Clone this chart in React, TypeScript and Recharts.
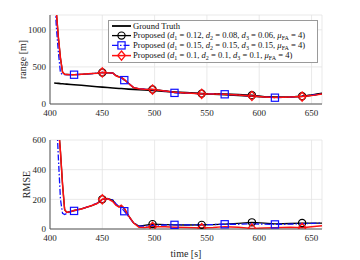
import React from 'react';
import { LineChart, Line, XAxis, YAxis, CartesianGrid } from 'recharts';

const times = [404, 406, 408, 410, 412, 414, 416, 420, 423, 430, 440, 445, 450, 455, 460, 463, 466, 468, 471, 475, 480, 485, 490, 498, 510, 519, 530, 545, 556, 567, 580, 593, 605, 615, 630, 641, 650, 660];

const groundTruth = [283, 280, 278, 275, 273, 270, 268, 263, 260, 252, 240, 233, 227, 222, 216, 213, 210, 208, 205, 201, 197, 192, 188, 181, 170, 162, 153, 140, 132, 125, 115, 105, 96, 92, 95, 105, 120, 145];
const rangeP1 = [2000, 1250, 900, 620, 430, 400, 398, 395, 395, 400, 410, 415, 425, 420, 418, 385, 365, 360, 330, 280, 220, 205, 200, 197, 177, 158, 148, 140, 138, 135, 128, 118, 100, 92, 96, 105, 118, 138];
const rangeP2 = [1600, 1050, 700, 420, 395, 395, 395, 395, 395, 400, 410, 415, 425, 420, 416, 382, 362, 355, 322, 278, 220, 205, 200, 195, 175, 150, 145, 140, 138, 131, 122, 108, 95, 85, 93, 102, 118, 140];
const rangeP3 = [2000, 1250, 900, 620, 430, 400, 398, 395, 395, 400, 410, 415, 425, 420, 418, 380, 365, 360, 330, 280, 220, 205, 200, 195, 175, 158, 148, 138, 136, 133, 123, 108, 96, 88, 93, 100, 113, 135];

const rmseP1 = [1500, 1100, 700, 520, 300, 130, 112, 118, 125, 135, 158, 172, 200, 205, 195, 165, 150, 158, 138, 90, 40, 20, 25, 33, 30, 28, 27, 28, 30, 33, 38, 45, 40, 35, 37, 40, 40, 40];
const rmseP2 = [1200, 800, 480, 200, 105, 98, 105, 118, 122, 135, 160, 175, 195, 205, 195, 170, 150, 145, 120, 85, 40, 20, 20, 25, 27, 28, 28, 28, 30, 32, 32, 35, 33, 31, 33, 36, 38, 40];
const rmseP3 = [1500, 1100, 700, 520, 300, 130, 112, 118, 125, 135, 158, 172, 200, 205, 185, 160, 148, 160, 140, 90, 40, 12, 10, 15, 15, 12, 10, 6, 10, 16, 12, 4, 6, 8, 12, 8, 15, 22];

const markersP1 = [450, 498, 545, 593, 641];
const markersP2 = [423, 471, 519, 567, 615];
const markersP3 = [450, 498, 545, 593, 641];

const xTicks = [400, 450, 500, 550, 600, 650];
const rangeTicks = [0, 500, 1000];
const rmseTicks = [0, 200, 400, 600];

const legendLabels = ['Ground Truth', 'Proposed', 'Proposed', 'Proposed'];
const legendParams = [
  ['0.12', '0.08', '0.06', '4'],
  ['0.15', '0.15', '0.15', '4'],
  ['0.1', '0.1', '0.1', '4'],
];

const rangeData = times.map((t, i) => ({ t, gt: groundTruth[i], p1: rangeP1[i], p2: rangeP2[i], p3: rangeP3[i] }));
const rmseData = times.map((t, i) => ({ t, p1: rmseP1[i], p2: rmseP2[i], p3: rmseP3[i] }));

const FONT = '"Liberation Serif", "DejaVu Serif", serif';
const BLACK = '#000000';
const BLUE = '#1010ff';
const RED = '#ff1010';
const BLUE_DASH = '6 2 1.5 2';

const circleShape = (cx: number, cy: number, key: any) => (
  <circle key={key} cx={cx} cy={cy} r={3.6} fill="none" stroke={BLACK} strokeWidth={1.2} />
);
const squareShape = (cx: number, cy: number, key: any) => (
  <rect key={key} x={cx - 3.6} y={cy - 3.6} width={7.2} height={7.2} fill="none" stroke={BLUE} strokeWidth={1.2} />
);
const diamondShape = (cx: number, cy: number, key: any) => (
  <path key={key} d={`M${cx},${cy - 4.6}L${cx + 3.8},${cy}L${cx},${cy + 4.6}L${cx - 3.8},${cy}Z`} fill="none" stroke={RED} strokeWidth={1.3} />
);

const makeDot = (markers: number[], shape: (cx: number, cy: number, key: any) => any) => (props: any) => {
  const { cx, cy, payload, index } = props;
  if (!payload || !markers.includes(payload.t) || cx == null || cy == null) return <g key={`n-${index}`} />;
  return shape(cx, cy, `m-${index}`);
};

const tickStyle = { fontSize: 9, fill: '#262626', fontFamily: FONT };
const axisLine = { stroke: '#555555', strokeWidth: 1 };

const yLabel = (text: string, x: number) => (props: any) => {
  const vb = props.viewBox || {};
  const cy = (vb.y || 0) + (vb.height || 0) / 2;
  return (
    <text x={x} y={cy} transform={`rotate(-90 ${x} ${cy})`} textAnchor="middle" dominantBaseline="central" fontSize={10} fontFamily={FONT} fill="#262626">
      {text}
    </text>
  );
};

const xLabel = (text: string) => (props: any) => {
  const vb = props.viewBox || {};
  const cx = (vb.x || 0) + (vb.width || 0) / 2;
  return (
    <text x={cx} y={(vb.y || 0) + 24} textAnchor="middle" dominantBaseline="central" fontSize={10} fontFamily={FONT} fill="#262626">
      {text}
    </text>
  );
};

function LegendBox() {
  const rowY = [5, 14.6, 24.4, 34.6];
  const samples = [
    { stroke: BLACK, dash: undefined, shape: null as any, width: 1.8 },
    { stroke: BLACK, dash: undefined, shape: circleShape, width: 1.3 },
    { stroke: BLUE, dash: BLUE_DASH, shape: squareShape, width: 1.3 },
    { stroke: RED, dash: undefined, shape: diamondShape, width: 1.5 },
  ];
  return (
    <div style={{ position: 'absolute', left: 108, top: 20, width: 208, height: 41, background: '#fff', border: '1px solid #9a9a9a', fontFamily: FONT, fontSize: 8.6, color: '#111' }}>
      <svg width={208} height={41} style={{ position: 'absolute', left: 0, top: 0 }}>
        {samples.map((s, i) => (
          <g key={i}>
            <line x1={3} x2={22} y1={rowY[i]} y2={rowY[i]} stroke={s.stroke} strokeWidth={s.width} strokeDasharray={s.dash} />
            {s.shape ? s.shape(12.5, rowY[i], `l${i}`) : null}
          </g>
        ))}
      </svg>
      {legendLabels.map((lab, i) => (
        <div key={i} style={{ position: 'absolute', left: 24, top: rowY[i] - 5.5, whiteSpace: 'nowrap', lineHeight: '11px' }}>
          {lab}
          {i > 0 ? (
            <span>
              {' ('}
              <i>d</i><sub style={{ fontSize: 6, verticalAlign: -2 }}>1</sub>{' = ' + legendParams[i - 1][0] + ', '}
              <i>d</i><sub style={{ fontSize: 6, verticalAlign: -2 }}>2</sub>{' = ' + legendParams[i - 1][1] + ', '}
              <i>d</i><sub style={{ fontSize: 6, verticalAlign: -2 }}>3</sub>{' = ' + legendParams[i - 1][2] + ', '}
              <i>μ</i><sub style={{ fontSize: 6, verticalAlign: -2 }}>FA</sub>{' = ' + legendParams[i - 1][3] + ')'}
            </span>
          ) : null}
        </div>
      ))}
    </div>
  );
}

export default function App() {
  return (
    <div style={{ position: 'absolute', left: 0, top: 0, width: 360, height: 260, background: '#fff', fontFamily: FONT }}>
      <div style={{ position: 'absolute', left: 0, top: 0 }}>
        <LineChart width={360} height={130} data={rangeData} margin={{ top: 15, right: 38, bottom: 0, left: 0 }}>
          <CartesianGrid stroke="#e3e3e3" strokeWidth={0.8} />
          <XAxis dataKey="t" type="number" domain={[400, 660]} ticks={xTicks} allowDataOverflow height={26} tick={tickStyle} tickLine={false} tickSize={3} tickMargin={3} axisLine={axisLine} />
          <YAxis type="number" domain={[0, 1200]} ticks={rangeTicks} allowDataOverflow width={50} tick={tickStyle} tickLine={false} tickSize={2} tickMargin={2} axisLine={axisLine} label={{ content: yLabel('range [m]', 22) }} />
          <Line dataKey="gt" stroke={BLACK} strokeWidth={1.6} dot={false} isAnimationActive={false} />
          <Line dataKey="p1" stroke={BLACK} strokeWidth={1.3} dot={makeDot(markersP1, circleShape)} activeDot={false} isAnimationActive={false} />
          <Line dataKey="p2" stroke={BLUE} strokeWidth={1.3} strokeDasharray={BLUE_DASH} dot={makeDot(markersP2, squareShape)} activeDot={false} isAnimationActive={false} />
          <Line dataKey="p3" stroke={RED} strokeWidth={1.5} dot={makeDot(markersP3, diamondShape)} activeDot={false} isAnimationActive={false} />
        </LineChart>
      </div>
      <div style={{ position: 'absolute', left: 0, top: 125 }}>
        <LineChart width={360} height={135} data={rmseData} margin={{ top: 15, right: 38, bottom: 0, left: 0 }}>
          <CartesianGrid stroke="#e3e3e3" strokeWidth={0.8} />
          <XAxis dataKey="t" type="number" domain={[400, 660]} ticks={xTicks} allowDataOverflow height={31} tick={tickStyle} tickLine={false} tickSize={3} tickMargin={3} axisLine={axisLine} label={{ content: xLabel('time [s]') }} />
          <YAxis type="number" domain={[0, 600]} ticks={rmseTicks} allowDataOverflow width={50} tick={tickStyle} tickLine={false} tickSize={2} tickMargin={2} axisLine={axisLine} label={{ content: yLabel('RMSE', 26) }} />
          <Line dataKey="p1" stroke={BLACK} strokeWidth={1.3} dot={makeDot(markersP1, circleShape)} activeDot={false} isAnimationActive={false} />
          <Line dataKey="p2" stroke={BLUE} strokeWidth={1.3} strokeDasharray={BLUE_DASH} dot={makeDot(markersP2, squareShape)} activeDot={false} isAnimationActive={false} />
          <Line dataKey="p3" stroke={RED} strokeWidth={1.5} dot={makeDot(markersP3, diamondShape)} activeDot={false} isAnimationActive={false} />
        </LineChart>
      </div>
      <LegendBox />
    </div>
  );
}
